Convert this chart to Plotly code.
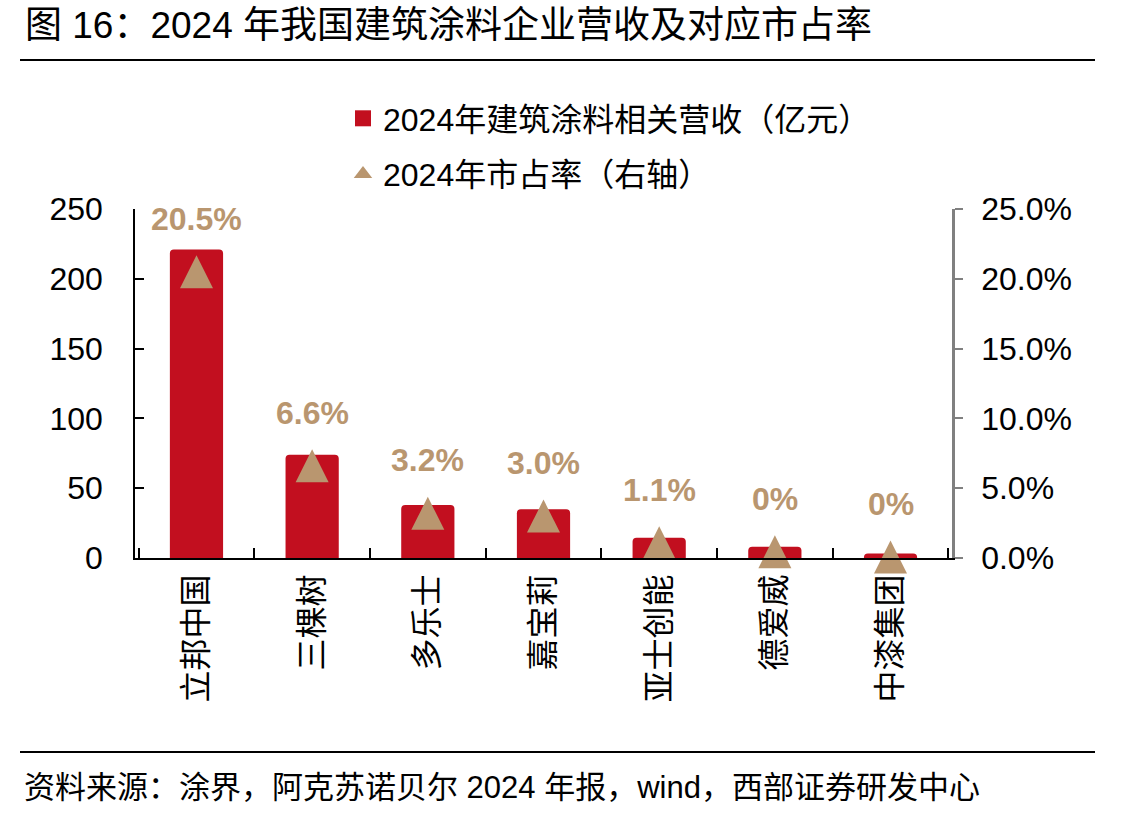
import plotly.graph_objects as go

# ---- data ----
companies = ["立邦中国", "三棵树", "多乐士", "嘉宝莉", "亚士创能", "德爱威", "中漆集团"]
revenue = [221, 74, 38, 35, 14.5, 8, 3.2]          # 亿元
share = [20.5, 6.6, 3.2, 3.0, 1.1, 0.45, 0.07]       # %
share_labels = ["20.5%", "6.6%", "3.2%", "3.0%", "1.1%", "0%", "0%"]
left_ticks = [0, 50, 100, 150, 200, 250]
right_ticks = [0, 5, 10, 15, 20, 25]
right_tick_text = ["0.0%", "5.0%", "10.0%", "15.0%", "20.0%", "25.0%"]

title_text = "图 16：2024 年我国建筑涂料企业营收及对应市占率"
source_text = "资料来源：涂界，阿克苏诺贝尔 2024 年报，wind，西部证券研发中心"
bar_name = "2024年建筑涂料相关营收（亿元）"
share_name = "2024年市占率（右轴）"

RED = "#C20F1F"
TAN = "#B9966F"
FONT = "Liberation Sans, Arial, Noto Sans CJK SC, sans-serif"

W, H = 1144, 818
ML, MR, MT, MB = 135, 192, 209, 260
PW, PH = W - ML - MR, H - MT - MB
TRI = 33  # triangle marker size (px)
SHARE_MAX = 25.0
# the "arrow-up" marker hangs below its anchor point; a hidden twin of the right
# axis, offset by half a marker, keeps each triangle centred on its value
tri_shift = (TRI / 2) / PH * SHARE_MAX

def px_to_paper_x(px):
    return (px - ML) / PW

def px_to_paper_y(py):
    return (H - MB - py) / PH

fig = go.Figure()
fig.add_trace(go.Bar(
    x=companies, y=revenue, name=bar_name,
    marker=dict(color=RED, cornerradius=4, line=dict(width=0)),
    yaxis="y", showlegend=False,
))
fig.add_trace(go.Scatter(
    x=companies, y=share, name=share_name, mode="markers",
    marker=dict(symbol="arrow-up", size=TRI, color=TAN, line=dict(width=0)),
    yaxis="y3", showlegend=False, cliponaxis=False,
))
# legend entries
fig.add_trace(go.Scatter(
    x=[None], y=[None], name=bar_name, mode="markers",
    marker=dict(symbol="square", size=16, color=RED), legendgroup="a",
))
fig.add_trace(go.Scatter(
    x=[None], y=[None], name=share_name, mode="markers",
    marker=dict(symbol="triangle-up", size=16, color=TAN), legendgroup="b",
))

for c, s, t in zip(companies, share, share_labels):
    fig.add_annotation(
        x=c, y=s, xref="x", yref="y2", text=t, showarrow=False,
        yshift=53, yanchor="middle",
        font=dict(family=FONT, size=32, color=TAN, weight="bold"),
    )

fig.add_annotation(
    x=px_to_paper_x(22), y=px_to_paper_y(787), xref="paper", yref="paper",
    text=source_text, showarrow=False, xanchor="left", yanchor="middle",
    font=dict(family=FONT, size=31, color="#000000"),
)

line_style = dict(color="#000000", width=2)
fig.add_shape(type="line", xref="paper", yref="paper",
              x0=px_to_paper_x(20), x1=px_to_paper_x(1095),
              y0=px_to_paper_y(60), y1=px_to_paper_y(60), line=line_style)
fig.add_shape(type="line", xref="paper", yref="paper",
              x0=px_to_paper_x(20), x1=px_to_paper_x(1095),
              y0=px_to_paper_y(752), y1=px_to_paper_y(752), line=line_style)

fig.update_layout(
    width=W, height=H,
    margin=dict(l=ML, r=MR, t=MT, b=MB, pad=0, autoexpand=False),
    paper_bgcolor="#FFFFFF", plot_bgcolor="#FFFFFF",
    font=dict(family=FONT, size=32, color="#000000"),
    title=dict(text=title_text, x=25 / W, xanchor="left", xref="container",
               y=1 - 25 / H, yanchor="middle", yref="container",
               font=dict(family=FONT, size=37, color="#000000")),
    bargap=0.54,
    showlegend=True,
    legend=dict(x=px_to_paper_x(343), y=px_to_paper_y(91), xanchor="left", yanchor="top",
                orientation="v", font=dict(family=FONT, size=32, color="#000000"),
                bgcolor="rgba(0,0,0,0)", tracegroupgap=11, traceorder="grouped"),
    xaxis=dict(
        showline=True, linecolor="#000000", linewidth=1.5, automargin=False,
        ticks="inside", tickson="boundaries", ticklen=10, tickcolor="#000000", tickwidth=1.5,
        tickangle=-90, tickfont=dict(family=FONT, size=32, color="#000000"),
        ticklabelstandoff=2, showgrid=False, zeroline=False,
    ),
    yaxis=dict(
        range=[0, 250], tickvals=left_ticks, showline=True, linecolor="#000000", linewidth=1.5,
        ticks="inside", ticklen=9, tickcolor="#000000", tickwidth=1.5, automargin=False,
        tickfont=dict(family=FONT, size=32, color="#000000"),
        ticklabelstandoff=24, showgrid=False, zeroline=False,
    ),
    yaxis2=dict(
        range=[0, SHARE_MAX], tickvals=right_ticks, ticktext=right_tick_text,
        overlaying="y", side="right", automargin=False,
        showline=True, linecolor="#808080", linewidth=2.5,
        ticks="outside", ticklen=8, tickcolor="#808080", tickwidth=2,
        tickfont=dict(family=FONT, size=32, color="#000000"),
        ticklabelstandoff=12, showgrid=False, zeroline=False,
    ),
    yaxis3=dict(
        range=[-tri_shift, SHARE_MAX - tri_shift], overlaying="y", side="right",
        visible=False, showgrid=False, zeroline=False, automargin=False,
    ),
)

fig.write_html("out.html")
